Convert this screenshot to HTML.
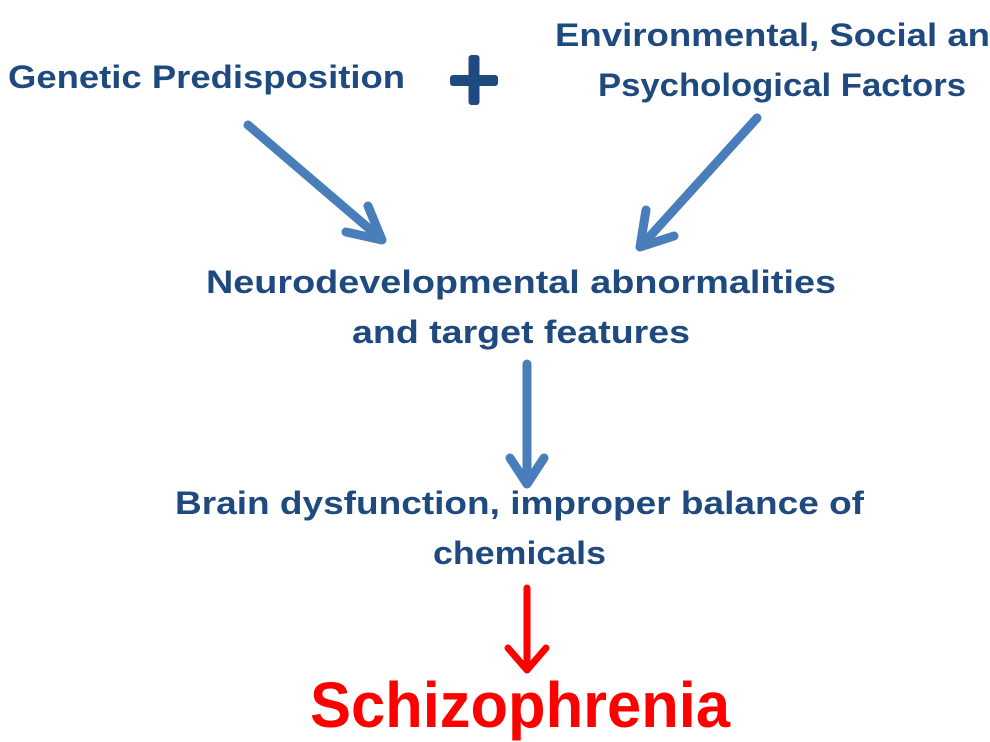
<!DOCTYPE html>
<html><head><meta charset="utf-8"><style>
html,body{margin:0;padding:0;background:#fff;}
svg{display:block}
text{font-family:"Liberation Sans",Arial,sans-serif;font-weight:bold;fill:#1f4a7f}
</style></head><body>
<svg width="990" height="742" viewBox="0 0 990 742" xmlns="http://www.w3.org/2000/svg">
<text x="8" y="88" font-size="32" textLength="397" lengthAdjust="spacingAndGlyphs">Genetic Predisposition</text>
<rect x="450" y="75" width="48" height="11" rx="3" fill="#1f4a7f"/>
<rect x="468.5" y="55" width="11" height="50" rx="3" fill="#1f4a7f"/>
<text x="555" y="46" font-size="32" textLength="435" lengthAdjust="spacingAndGlyphs">Environmental, Social an</text>
<text x="598" y="96" font-size="32" textLength="368" lengthAdjust="spacingAndGlyphs">Psychological Factors</text>
<text x="206" y="293" font-size="32" textLength="630" lengthAdjust="spacingAndGlyphs">Neurodevelopmental abnormalities</text>
<text x="352" y="343" font-size="32" textLength="338" lengthAdjust="spacingAndGlyphs">and target features</text>
<text x="175" y="514" font-size="32" textLength="689" lengthAdjust="spacingAndGlyphs">Brain dysfunction, improper balance of</text>
<text x="433" y="564" font-size="32" textLength="173" lengthAdjust="spacingAndGlyphs">chemicals</text>
<text x="310" y="727" font-size="64" textLength="420" lengthAdjust="spacingAndGlyphs" style="fill:#ff0000">Schizophrenia</text>
<g stroke="#4a7ebb" stroke-width="9" stroke-linecap="round" stroke-linejoin="round" fill="none">
<line x1="248" y1="125" x2="380" y2="238"/>
<polyline points="346,232 382,240 368,206"/>
<line x1="757" y1="118" x2="642" y2="245"/>
<polyline points="646,210 640,247 674,236"/>
<line x1="527" y1="364" x2="527" y2="482"/>
<polyline points="510,458 527,484 544,458"/>
</g>
<g stroke="#ff0000" stroke-width="7" stroke-linecap="round" stroke-linejoin="round" fill="none">
<line x1="527" y1="588" x2="527" y2="668"/>
<polyline points="508,648 527,670 546,648"/>
</g>
</svg>
</body></html>
